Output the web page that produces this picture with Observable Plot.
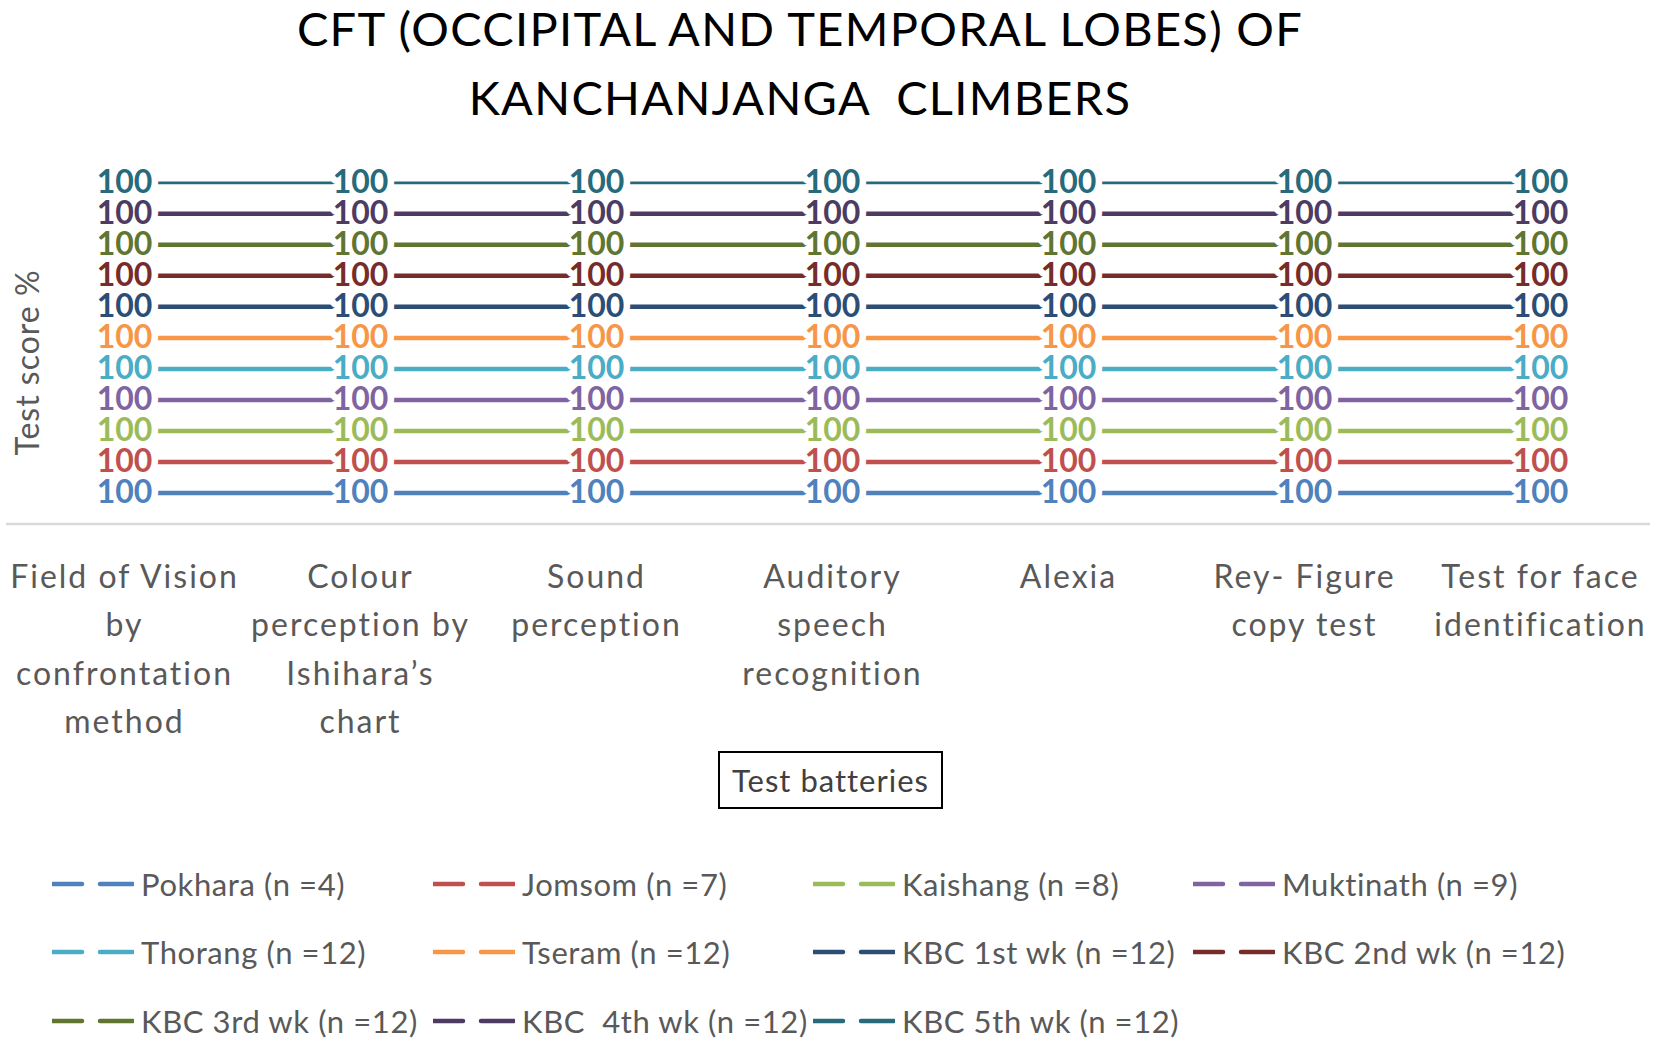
<!DOCTYPE html>
<html>
<head>
<meta charset="utf-8">
<script src="https://cdn.jsdelivr.net/npm/d3@7"></script>
<script src="https://cdn.jsdelivr.net/npm/@observablehq/plot@0.6"></script>
<style>
  body { margin: 0; background: #fff; }
  #wrap { position: relative; width: 1665px; height: 1043px; overflow: hidden; font-family: Lato, "Open Sans", sans-serif; background: #fff; }
  #title { position: absolute; left: 0; width: 1600px; top: -6px; text-align: center; font-size: 47px; letter-spacing: 1.3px; line-height: 69px; color: #000; white-space: pre; }
  #chart { position: absolute; left: 0; top: 130px; }
  #xtitle { position: absolute; left: 718px; top: 751px; width: 221px; height: 54px; border: 2.5px solid #000; display: flex; align-items: center; justify-content: center; font-size: 31px; letter-spacing: 1px; color: #404040; }
  .leg { position: absolute; height: 40px; display: flex; align-items: center; font-size: 31px; letter-spacing: 0.6px; color: #595959; white-space: pre; }
  .leg svg { margin-right: 7px; }
</style>
</head>
<body>
<div id="wrap">
  <div id="title">CFT (OCCIPITAL AND TEMPORAL LOBES) OF
KANCHANJANGA  CLIMBERS</div>
  <div id="chart"></div>
  <div id="xtitle">Test batteries</div>
  <div id="legend"></div>
</div>
<script>
const categories = [
  "Field of Vision\nby\nconfrontation\nmethod",
  "Colour\nperception by\nIshihara’s\nchart",
  "Sound\nperception",
  "Auditory\nspeech\nrecognition",
  "Alexia",
  "Rey- Figure\ncopy test",
  "Test for face\nidentification"
];
const seriesNames = [
  "Pokhara (n =4)", "Jomsom (n =7)", "Kaishang (n =8)", "Muktinath (n =9)",
  "Thorang (n =12)", "Tseram (n =12)", "KBC 1st wk (n =12)", "KBC 2nd wk (n =12)",
  "KBC 3rd wk (n =12)", "KBC  4th wk (n =12)", "KBC 5th wk (n =12)"
];
const seriesColors = [
  "#4f81bd", "#c0504d", "#9bbb59", "#8064a2", "#4bacc6", "#f79646",
  "#2c4d75", "#772c2a", "#5f7530", "#4d3b62", "#276a7c"
];
const pokhara   = [100, 100, 100, 100, 100, 100, 100];
const jomsom    = [100, 100, 100, 100, 100, 100, 100];
const kaishang  = [100, 100, 100, 100, 100, 100, 100];
const muktinath = [100, 100, 100, 100, 100, 100, 100];
const thorang   = [100, 100, 100, 100, 100, 100, 100];
const tseram    = [100, 100, 100, 100, 100, 100, 100];
const kbc1      = [100, 100, 100, 100, 100, 100, 100];
const kbc2      = [100, 100, 100, 100, 100, 100, 100];
const kbc3      = [100, 100, 100, 100, 100, 100, 100];
const kbc4      = [100, 100, 100, 100, 100, 100, 100];
const kbc5      = [100, 100, 100, 100, 100, 100, 100];
const seriesValues = [pokhara, jomsom, kaishang, muktinath, thorang, tseram, kbc1, kbc2, kbc3, kbc4, kbc5];

const data = [];
seriesNames.forEach((s, si) => {
  categories.forEach((c, ci) => data.push({series: s, test: c, value: seriesValues[si][ci]}));
});
const thinSeries = "KBC 5th wk (n =12)";

const chart = Plot.plot({
  width: 1665,
  height: 690,
  marginLeft: 6,
  marginRight: 15,
  marginTop: 52,
  marginBottom: 296,
  style: {fontFamily: "Lato, 'Open Sans', sans-serif", background: "transparent"},
  x: {type: "point", domain: categories, range: [124, 1540], padding: 0, axis: null},
  y: {domain: [0, 1100], range: [393.5, 52.3], axis: null},
  color: {domain: seriesNames, range: seriesColors},
  marks: [
    Plot.ruleY([0], {stroke: "#d9d9d9", strokeWidth: 2.5}),
    Plot.lineY(data, Plot.stackY2({
      x: "test", y: "value", z: "series", stroke: "series",
      strokeWidth: d => d.series === thinSeries ? 2.7 : 4.5,
      strokeLinecap: "butt"
    })),
    Plot.text(data, Plot.stackY2({
      x: "test", y: "value", z: "series",
      text: d => String(d.value),
      fill: "series", stroke: "white", strokeWidth: 13,
      fontSize: 32, fontWeight: "bold"
    })),
    Plot.text(categories, {
      x: d => d, y: () => 0, text: d => d,
      dy: 29, lineAnchor: "top", lineHeight: 1.52,
      fontSize: 32, fill: "#595959", textAnchor: "middle"
    }),
    Plot.text(["Test score %"], {
      frameAnchor: "left", text: d => d, rotate: -90, textAnchor: "middle",
      dx: 22, dy: 9, fontSize: 32, fill: "#595959"
    })
  ]
});
// spacing of the label texts, to match the wider original lettering
const textGroups = chart.querySelectorAll('g[aria-label="text"]');
if (textGroups[1]) textGroups[1].style.letterSpacing = "2px";
if (textGroups[2]) textGroups[2].style.letterSpacing = "1px";
document.getElementById("chart").appendChild(chart);

// legend
const legendCols = [52, 433, 813, 1193];
const legendRows = [884, 952, 1021];
const legend = document.getElementById("legend");
seriesNames.forEach((s, i) => {
  const col = i % 4, row = Math.floor(i / 4);
  const item = document.createElement("div");
  item.className = "leg";
  item.style.left = legendCols[col] + "px";
  item.style.top = (legendRows[row] - 20) + "px";
  const ns = "http://www.w3.org/2000/svg";
  const svg = document.createElementNS(ns, "svg");
  svg.setAttribute("width", 82);
  svg.setAttribute("height", 10);
  [[0, 30], [48, 81]].forEach(([a, b]) => {
    const ln = document.createElementNS(ns, "line");
    ln.setAttribute("x1", a); ln.setAttribute("x2", b);
    ln.setAttribute("y1", 5); ln.setAttribute("y2", 5);
    ln.setAttribute("stroke", seriesColors[i]);
    ln.setAttribute("stroke-width", 4.5);
    ln.setAttribute("stroke-linecap", "round");
    svg.appendChild(ln);
  });
  item.appendChild(svg);
  const t = document.createElement("span");
  t.textContent = s;
  item.appendChild(t);
  legend.appendChild(item);
});
</script>
</body>
</html>
